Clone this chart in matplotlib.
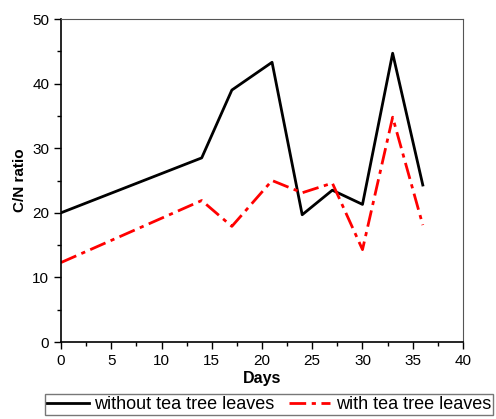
import matplotlib
matplotlib.use("Agg")
import matplotlib.pyplot as plt
from matplotlib.ticker import MultipleLocator

plt.rcParams['font.family'] = ['Liberation Sans', 'DejaVu Sans']

days = [0, 14, 17, 21, 24, 27, 30, 33, 36]
without_tea = [20.0, 28.5, 39.0, 43.3, 19.7, 23.5, 21.3, 44.7, 24.3]
with_tea = [12.3, 21.9, 17.9, 25.0, 23.1, 24.6, 14.3, 34.8, 18.1]

fig = plt.figure(figsize=(4.96, 4.19), dpi=100)
ax = fig.add_axes([61/496, 1 - 342/419, (463-61)/496, (342-19)/419])

l1, = ax.plot(days, without_tea, color='black', lw=2, label='without tea tree leaves')
l2, = ax.plot(days, with_tea, color='red', lw=2, dashes=(6, 2, 1.5, 2), label='with tea tree leaves')

ax.set_xlim(0, 40)
ax.set_ylim(0, 50)
ax.xaxis.set_major_locator(MultipleLocator(5))
ax.xaxis.set_minor_locator(MultipleLocator(2.5))
ax.yaxis.set_major_locator(MultipleLocator(10))
ax.yaxis.set_minor_locator(MultipleLocator(5))
ax.tick_params(which='major', direction='out', length=5, width=1, labelsize=11)
ax.tick_params(which='minor', direction='out', length=3, width=1)
for s in ['top', 'right']:
    ax.spines[s].set_color('#555555')
for s in ['left', 'bottom']:
    ax.spines[s].set_linewidth(1.2)

ax.set_xlabel('Days', fontsize=11.5, fontweight='bold', labelpad=2)
ax.set_ylabel('C/N ratio', fontsize=11, fontweight='bold', labelpad=4)

leg = fig.legend(handles=[l1, l2], loc='lower center', bbox_to_anchor=(269/496, 4/419),
                 ncol=2, fontsize=13, frameon=True, fancybox=False, edgecolor='#555555',
                 handlelength=2.3, columnspacing=0.8, borderpad=0.1, handletextpad=0.3,
                 borderaxespad=0)
leg.get_frame().set_linewidth(1)

fig.savefig('out.png', dpi=100)
